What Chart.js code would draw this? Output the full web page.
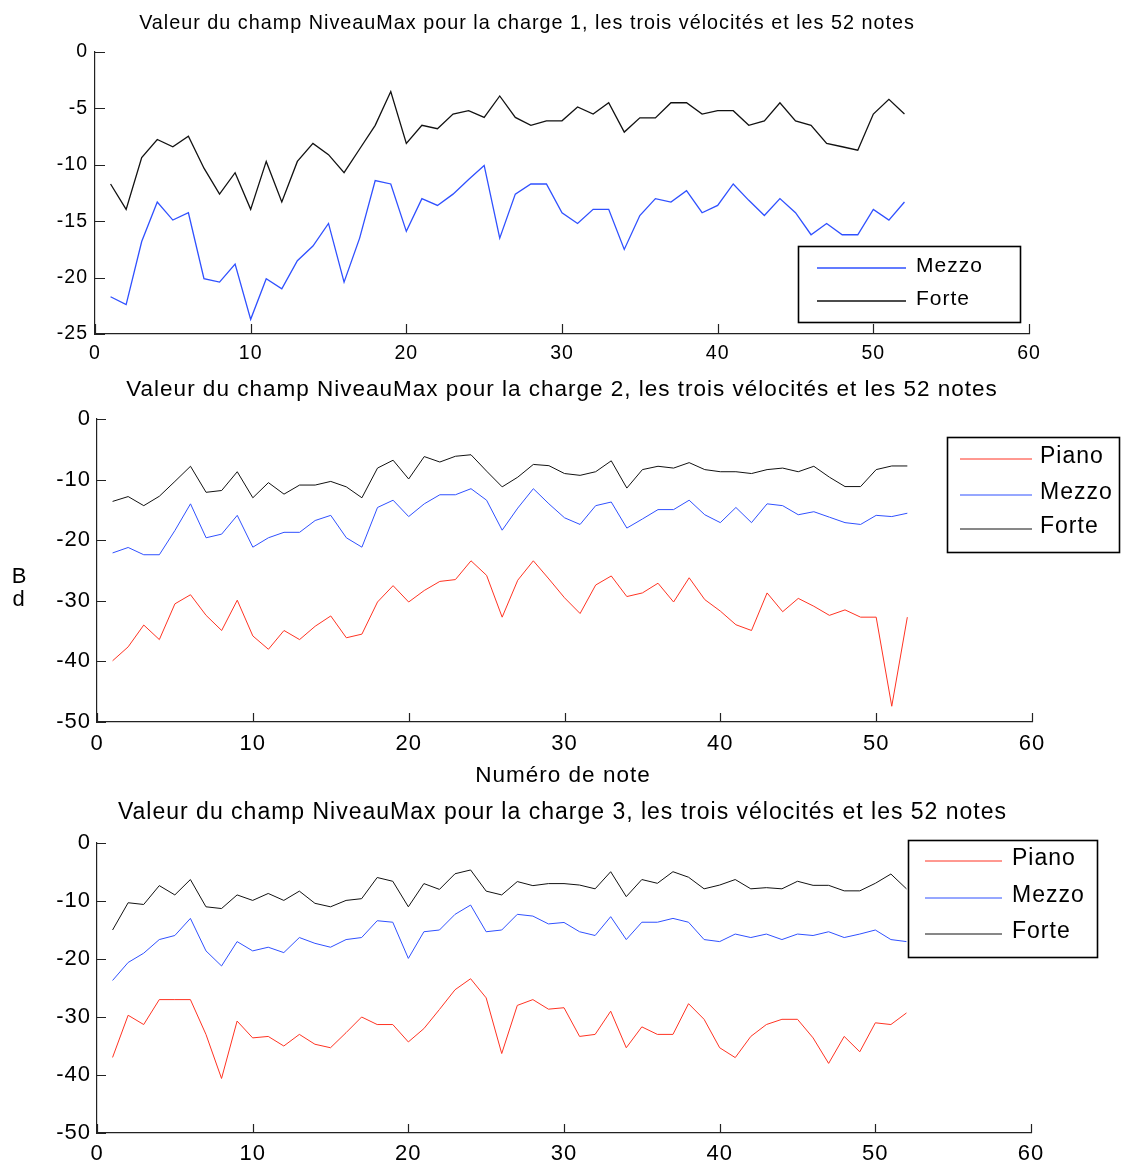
<!DOCTYPE html>
<html>
<head>
<meta charset="utf-8">
<title>NiveauMax</title>
<script src="https://cdn.jsdelivr.net/npm/chart.js@4.4.0/dist/chart.umd.min.js"></script>
<style>
  body { margin: 0; background: #fff; }
  #wrap { position: relative; width: 1125px; height: 1166px; }
  canvas { position: absolute; left: 0; }
</style>
</head>
<body>
<div id="wrap">
  <canvas id="chart1" width="1125" height="372" style="top:0px;width:1125px;height:372px"></canvas>
  <canvas id="chart2" width="1125" height="418" style="top:372px;width:1125px;height:418px"></canvas>
  <canvas id="chart3" width="1125" height="376" style="top:790px;width:1125px;height:376px"></canvas>
</div>
<script>
// Note numbers (x axis)
const notes = [1, 2, 3, 4, 5, 6, 7, 8, 9, 10, 11, 12, 13, 14, 15, 16, 17, 18, 19, 20,
  21, 22, 23, 24, 25, 26, 27, 28, 29, 30, 31, 32, 33, 34, 35, 36, 37, 38, 39, 40,
  41, 42, 43, 44, 45, 46, 47, 48, 49, 50, 51, 52];

// Charge 1 (dB)
const mezzo1 = [-21.7, -22.4, -16.8, -13.3, -14.9, -14.25, -20.1, -20.4, -18.8, -23.7,
  -20.1, -21.0, -18.5, -17.2, -15.2, -20.4, -16.5, -11.4, -11.7, -15.9,
  -13.0, -13.6, -12.6, -11.3, -10.06, -16.5, -12.6, -11.7, -11.7, -14.25,
  -15.2, -13.95, -13.95, -17.5, -14.5, -13.0, -13.3, -12.3, -14.25, -13.6,
  -11.7, -13.15, -14.5, -13.0, -14.25, -16.2, -15.2, -16.2, -16.2, -13.95,
  -14.9, -13.3];
const forte1 = [-11.7, -13.95, -9.35, -7.76, -8.4, -7.46, -10.3, -12.6, -10.7, -13.95,
  -9.7, -13.3, -9.7, -8.1, -9.1, -10.7, -8.6, -6.5, -3.5, -8.1,
  -6.5, -6.8, -5.5, -5.2, -5.8, -3.9, -5.8, -6.5, -6.1, -6.1,
  -4.87, -5.5, -4.5, -7.1, -5.84, -5.84, -4.5, -4.5, -5.5, -5.2,
  -5.2, -6.5, -6.1, -4.5, -6.1, -6.5, -8.1, -8.4, -8.7, -5.5,
  -4.2, -5.5];

// Charge 2 (dB)
const piano2 = [-39.9, -37.6, -34.0, -36.4, -30.5, -29.0, -32.4, -34.9, -29.9, -35.8,
  -38.0, -34.9, -36.4, -34.2, -32.5, -36.1, -35.5, -30.2, -27.5, -30.2,
  -28.3, -26.8, -26.5, -23.4, -25.8, -32.7, -26.6, -23.4, -26.4, -29.5,
  -32.1, -27.4, -25.9, -29.3, -28.7, -27.1, -30.2, -26.2, -29.8, -31.7,
  -33.95, -34.9, -28.7, -31.8, -29.6, -30.9, -32.4, -31.5, -32.7, -32.7,
  -47.4, -32.7];
const mezzo2 = [-22.1, -21.2, -22.4, -22.4, -18.4, -14.0, -19.6, -19.0, -15.9, -21.15,
  -19.6, -18.7, -18.7, -16.75, -15.9, -19.6, -21.15, -14.6, -13.4, -16.1,
  -14.0, -12.5, -12.5, -11.5, -13.4, -18.35, -14.7, -11.5, -14.0, -16.3,
  -17.4, -14.3, -13.7, -18.0, -16.5, -14.95, -14.95, -13.4, -15.8, -17.1,
  -14.6, -17.1, -14.0, -14.3, -15.8, -15.3, -16.2, -17.1, -17.4, -15.9,
  -16.1, -15.55];
const forte2 = [-13.6, -12.8, -14.3, -12.75, -10.3, -7.8, -12.1, -11.8, -8.7, -13.0,
  -10.5, -12.4, -10.9, -10.9, -10.3, -11.2, -13.0, -8.1, -6.8, -9.9,
  -6.2, -7.1, -6.15, -5.9, -8.6, -11.2, -9.6, -7.5, -7.7, -9.0,
  -9.3, -8.7, -6.9, -11.4, -8.35, -7.8, -8.1, -7.2, -8.35, -8.7,
  -8.7, -9.0, -8.35, -8.1, -8.7, -7.8, -9.6, -11.15, -11.15, -8.35,
  -7.75, -7.75];

// Charge 3 (dB)
const piano3 = [-36.97, -29.7, -31.3, -27.0, -27.0, -27.0, -33.0, -40.6, -30.7, -33.6,
  -33.35, -35.0, -33.0, -34.7, -35.3, -32.7, -30.0, -31.3, -31.3, -34.3,
  -32.0, -28.7, -25.3, -23.4, -26.7, -36.3, -28.0, -27.0, -28.65, -28.4,
  -33.35, -33.0, -29.0, -35.3, -31.7, -33.0, -33.0, -27.7, -30.4, -35.3,
  -37.0, -33.35, -31.3, -30.4, -30.4, -33.6, -38.0, -33.35, -36.0, -31.0,
  -31.3, -29.3];
const mezzo3 = [-23.7, -20.6, -19.0, -16.65, -15.95, -13.0, -18.6, -21.2, -17.0, -18.6,
  -17.97, -18.9, -16.3, -17.3, -17.97, -16.65, -16.3, -13.4, -13.66, -19.9,
  -15.3, -15.0, -12.3, -10.7, -15.3, -15.0, -12.3, -12.6, -13.95, -13.7,
  -15.3, -15.95, -12.7, -16.65, -13.66, -13.66, -13.0, -13.66, -16.65, -17.0,
  -15.7, -16.3, -15.7, -16.65, -15.7, -15.95, -15.3, -16.3, -15.7, -15.0,
  -16.65, -17.0];
const forte3 = [-15.0, -10.3, -10.6, -7.35, -8.95, -6.3, -11.0, -11.3, -8.95, -9.9,
  -8.7, -9.9, -8.3, -10.4, -11.0, -9.9, -9.6, -5.95, -6.6, -11.0,
  -7.0, -8.0, -5.3, -4.65, -8.3, -8.95, -6.65, -7.35, -7.0, -7.0,
  -7.25, -7.9, -4.95, -9.25, -6.3, -6.95, -4.95, -5.9, -7.9, -7.25,
  -6.3, -7.9, -7.7, -7.9, -6.6, -7.3, -7.3, -8.25, -8.25, -6.95,
  -5.35, -7.9];

const titleText = n => 'Valeur du champ NiveauMax pour la charge ' + n + ', les trois vélocités et les 52 notes';

const FONT = '"Liberation Sans", Arial, Helvetica, sans-serif';
const RED = '#ff3322';
const BLUE = '#2f50ff';
const BLACK = '#111';

// pairs note numbers with a series
const points = vals => notes.map((n, i) => ({ x: n, y: vals[i] }));

// draws MATLAB-ish inward ticks, free texts and the boxed legend
const matlabDecor = {
    id: 'matlabDecor',
    beforeDraw(chart) {
        // the original Helvetica runs a bit wider than Liberation Sans
        chart.ctx.letterSpacing = '1px';
    },
    afterDraw(chart, args, opts) {
        const ctx = chart.ctx;
        const area = chart.chartArea;
        const off = opts.offsetTop;
        const xs = chart.scales.x;
        const ys = chart.scales.y;
        ctx.save();

        // tick marks pointing into the plot
        ctx.strokeStyle = '#222';
        ctx.lineWidth = 1.2;
        ctx.beginPath();
        xs.ticks.forEach(t => {
            const px = Math.round(xs.getPixelForValue(t.value)) + 0.5;
            ctx.moveTo(px, area.bottom);
            ctx.lineTo(px, area.bottom - opts.tickLen);
        });
        ys.ticks.forEach(t => {
            const py = Math.round(ys.getPixelForValue(t.value)) + 0.5;
            ctx.moveTo(area.left, py);
            ctx.lineTo(area.left + opts.tickLen, py);
        });
        ctx.stroke();

        // title and axis labels
        ctx.letterSpacing = '1px';
        ctx.fillStyle = '#000';
        ctx.textAlign = 'center';
        ctx.textBaseline = 'middle';
        opts.texts.forEach(t => {
            ctx.font = t.size + 'px ' + FONT;
            ctx.fillText(t.text, t.x, t.y - off);
        });

        // legend box
        const lg = opts.legend;
        ctx.fillStyle = '#fff';
        ctx.fillRect(lg.x, lg.y - off, lg.w, lg.h);
        ctx.strokeStyle = '#000';
        ctx.lineWidth = 1.6;
        ctx.strokeRect(lg.x, lg.y - off, lg.w, lg.h);
        ctx.textAlign = 'left';
        ctx.font = lg.size + 'px ' + FONT;
        chart.data.datasets.forEach((ds, i) => {
            const ry = lg.rows[i] - off;
            ctx.strokeStyle = ds.borderColor;
            ctx.lineWidth = ds.borderWidth;
            ctx.beginPath();
            ctx.moveTo(lg.lineX1, ry);
            ctx.lineTo(lg.lineX2, ry);
            ctx.stroke();
            ctx.fillStyle = '#000';
            ctx.fillText(ds.label, lg.textX, ry - 2);
        });
        ctx.restore();
    }
};

function makeChart(id, p) {
    return new Chart(document.getElementById(id), {
        type: 'line',
        data: { datasets: p.datasets },
        options: {
            responsive: false,
            animation: false,
            layout: { padding: { top: p.area.top, right: 1125 - p.area.right, bottom: 0, left: 0 } },
            elements: { point: { radius: 0 }, line: { tension: 0 } },
            scales: {
                x: {
                    type: 'linear',
                    min: 0,
                    max: 60,
                    afterFit: s => { s.height = p.height - p.area.bottom; },
                    grid: { drawOnChartArea: false, drawTicks: false },
                    border: { color: '#222', width: 1.2 },
                    ticks: { stepSize: 10, padding: p.xPad, color: '#000', font: { family: FONT, size: p.tickSize } },
                },
                y: {
                    min: p.yMin,
                    max: 0,
                    afterFit: s => { s.width = p.area.left; },
                    grid: { drawOnChartArea: false, drawTicks: false },
                    border: { color: '#222', width: 1.2 },
                    ticks: {
                        stepSize: p.yStep,
                        padding: p.yPad,
                        color: '#000',
                        font: { family: FONT, size: p.tickSize },
                        callback: v => String(v),
                    },
                },
            },
            plugins: {
                legend: { display: false },
                tooltip: { enabled: false },
                matlabDecor: {
                    offsetTop: p.offsetTop,
                    tickLen: p.tickLen,
                    texts: p.texts,
                    legend: p.legend,
                },
            },
        },
        plugins: [matlabDecor],
    });
}

// Charge 1
const chart1 = makeChart('chart1', {
    offsetTop: 0,
    height: 372,
    area: { left: 95, right: 1029, top: 52, bottom: 334 },
    yMin: -25, yStep: 5,
    tickSize: 19.5, xPad: 8, yPad: 7, tickLen: 10,
    datasets: [
        { label: 'Mezzo', data: points(mezzo1), borderColor: BLUE, borderWidth: 1.3 },
        { label: 'Forte', data: points(forte1), borderColor: BLACK, borderWidth: 1.3 },
    ],
    texts: [{ text: titleText(1), x: 527, y: 24, size: 19.8 }],
    legend: { x: 798.5, y: 246.5, w: 222, h: 76, rows: [268, 301], lineX1: 817, lineX2: 906, textX: 916, size: 21 },
});

// Charge 2
const chart2 = makeChart('chart2', {
    offsetTop: 372,
    height: 418,
    area: { left: 97, right: 1032, top: 47, bottom: 350 },
    yMin: -50, yStep: 10,
    tickSize: 22, xPad: 9, yPad: 6, tickLen: 9,
    datasets: [
        { label: 'Piano', data: points(piano2), borderColor: RED, borderWidth: 1 },
        { label: 'Mezzo', data: points(mezzo2), borderColor: BLUE, borderWidth: 1 },
        { label: 'Forte', data: points(forte2), borderColor: BLACK, borderWidth: 1 },
    ],
    texts: [
        { text: titleText(2), x: 562, y: 390, size: 22.5 },
        { text: 'Numéro de note', x: 563, y: 776, size: 22.5 },
        { text: 'B', x: 19.5, y: 577, size: 22 },
        { text: 'd', x: 19, y: 600, size: 22 },
    ],
    legend: { x: 947.5, y: 437.5, w: 172, h: 115, rows: [459, 495, 529], lineX1: 960, lineX2: 1032, textX: 1040, size: 23 },
});

// Charge 3
const chart3 = makeChart('chart3', {
    offsetTop: 790,
    height: 376,
    area: { left: 97, right: 1031, top: 53, bottom: 343 },
    yMin: -50, yStep: 10,
    tickSize: 22, xPad: 8, yPad: 6, tickLen: 9,
    datasets: [
        { label: 'Piano', data: points(piano3), borderColor: RED, borderWidth: 1 },
        { label: 'Mezzo', data: points(mezzo3), borderColor: BLUE, borderWidth: 1 },
        { label: 'Forte', data: points(forte3), borderColor: BLACK, borderWidth: 1 },
    ],
    texts: [{ text: titleText(3), x: 562.5, y: 813, size: 23 }],
    legend: { x: 908.5, y: 840.5, w: 189, h: 117, rows: [861, 898, 934], lineX1: 925, lineX2: 1002, textX: 1012, size: 23 },
});
</script>
</body>
</html>
